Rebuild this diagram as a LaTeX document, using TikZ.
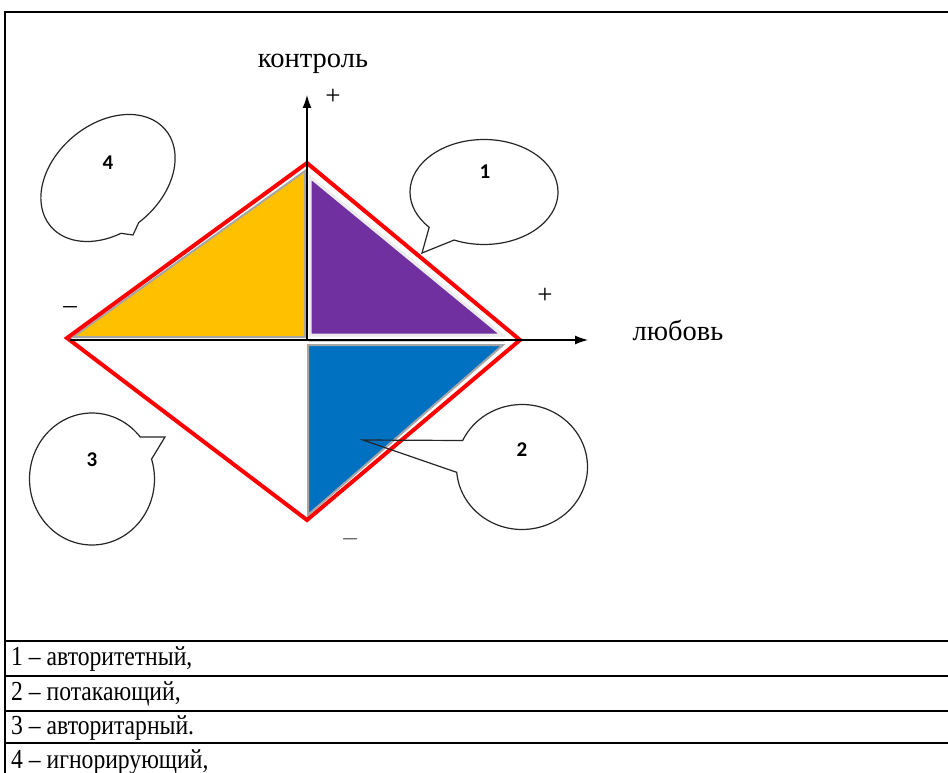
\documentclass[tikz,border=0pt]{standalone}
\usepackage{fontspec}
\setmainfont{Liberation Serif}
\newfontfamily\numfont{Carlito}
\newfontfamily\rowfont{Liberation Serif}[FakeStretch=0.86, Ligatures=TeX]
\usepackage{tikz}
\usetikzlibrary{shapes.callouts,arrows.meta,positioning,calc}
\definecolor{qyellow}{RGB}{255,192,0}
\definecolor{qpurple}{RGB}{112,48,160}
\definecolor{qblue}{RGB}{0,112,192}

\begin{document}
\begin{tikzpicture}[
    x=1pt, y=-1pt,
    lbl/.style={font=\fontsize{28.5}{30}\selectfont, inner sep=0pt},
    sgn/.style={font=\fontsize{27}{28}\selectfont, inner sep=0pt},
    num/.style={font=\numfont\bfseries\fontsize{21}{22}\selectfont, inner sep=0pt},
    row/.style={font=\rowfont\fontsize{27.5}{29}\selectfont, inner sep=0pt, anchor=base west},
    bubble/.style={ellipse callout, draw=black!85, line width=1.2pt, inner sep=0pt, callout pointer arc=16},
    axis/.style={-{Latex[length=13pt,width=9pt]}, line width=1.3pt},
    quad/.style={line width=2pt, draw=gray!70, line join=miter},
    rhomb/.style={line width=4pt, draw=red, line join=miter}
]
    \useasboundingbox (0,0) rectangle (948,773);
    \clip (0,0) rectangle (948,773);
    \fill[white] (0,0) rectangle (948,773);

    \draw[line width=1.3pt] (960,12) -- (5,12) -- (5,780);
    \foreach \y in {641,676,711,743}
        \draw[line width=1.1pt] (5,\y) -- (960,\y);

    \node[row] (r1) at (11,665) {1 \textendash{} авторитетный,};
    \node[row] (r2) at (11,700) {2 \textendash{} потакающий,};
    \node[row] (r3) at (11,734) {3 \textendash{} авторитарный.};
    \node[row] (r4) at (11,768) {4 \textendash{} игнорирующий,};

    \coordinate (o) at (307,340);
    \coordinate (top) at (307,163);
    \coordinate (rt) at (520,340);
    \coordinate (bot) at (307,520);
    \coordinate (lt) at (67,338);

    \filldraw[quad, fill=qyellow] (73,337) -- (305,171) -- (305,337) -- cycle;
    \filldraw[quad, fill=qpurple, draw=gray!15, line width=3pt] (310,177) -- (310,335) -- (502,335) -- cycle;
    \filldraw[quad, fill=qblue] (308,345) -- (503,345) -- (308,515) -- cycle;
    \draw[gray!40, line width=3pt] (309,340) -- (505,340);

    \draw[rhomb] (top) -- (rt) -- (bot) -- (lt) -- cycle;

    \draw[axis] (70,340) -- (588,340) coordinate (xend);
    \draw[axis] (o) -- (307,95) coordinate (yend);

    \node[lbl] (ylab) at (313,64) {контроль};
    \node[lbl] (xlab) at (678,330) {любовь};
    \node[sgn] (p1) at (333,97) {+};
    \node[sgn] (p2) at (545,296) {+};
    \node[sgn] (m1) at (70,310) {\textendash};
    \node[sgn, text=black!60] (m2) at (350,542) {\textendash};

    \node[bubble, callout pointer arc=24, minimum width=148pt, minimum height=105pt, callout absolute pointer={(422,253)}] (c1) at (484,192) {};
    \node[bubble, callout pointer arc=30, minimum width=131pt, minimum height=125pt, callout absolute pointer={(363,440)}] (c2) at (522,467) {};
    \node[bubble, callout pointer arc=22, minimum width=125pt, minimum height=132pt, callout absolute pointer={(165,437)}] (c3) at (92,479) {};
    \node[bubble, minimum width=150pt, minimum height=108pt, rotate=40, callout absolute pointer={(133,235)}] (c4) at (108,178) {};

    \node[num] (t1) at (485,172) {1};
    \node[num] (t2) at (522,450) {2};
    \node[num] (t3) at (92,460) {3};
    \node[num] (t4) at (108,163) {4};
\end{tikzpicture}
\end{document}
